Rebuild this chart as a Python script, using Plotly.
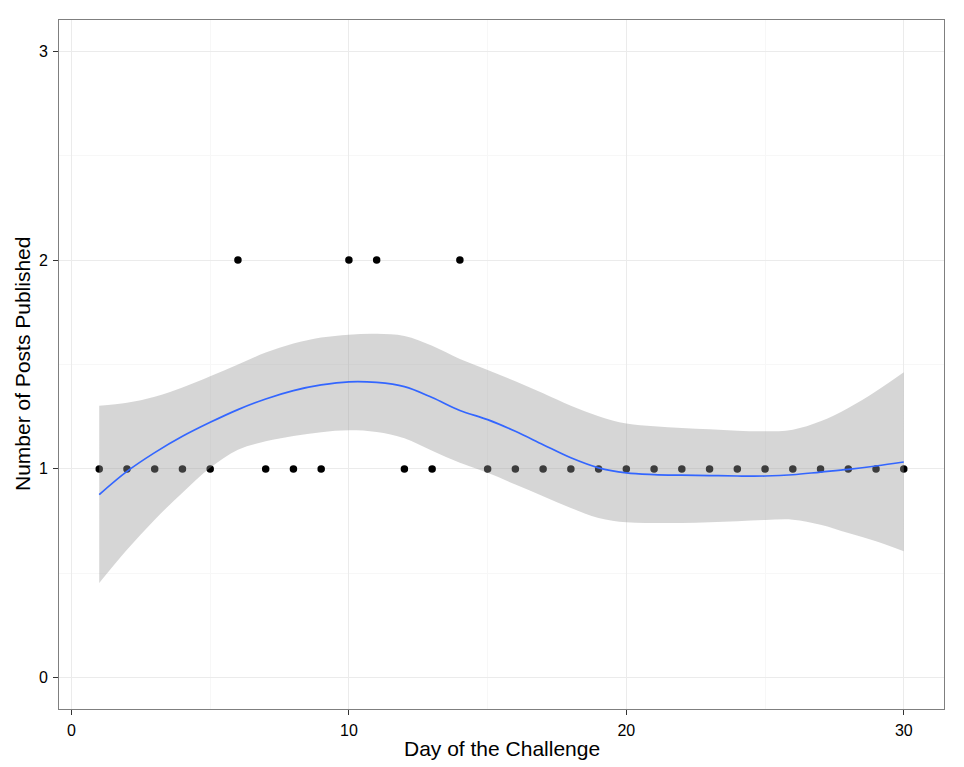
import plotly.graph_objects as go

days = list(range(1, 31))
posts = [1, 1, 1, 1, 1, 2, 1, 1, 1, 2, 2, 1, 1, 2, 1, 1, 1, 1, 1, 1,
         1, 1, 1, 1, 1, 1, 1, 1, 1, 1]

smooth_fit = [0.877, 0.988, 1.078, 1.156, 1.223, 1.284, 1.335, 1.375, 1.402, 1.417,
              1.414, 1.394, 1.342, 1.280, 1.236, 1.180, 1.116, 1.053, 1.005, 0.981,
              0.973, 0.970, 0.968, 0.966, 0.966, 0.972, 0.985, 0.998, 1.014, 1.033]
band_upper = [1.303, 1.317, 1.346, 1.390, 1.444, 1.500, 1.557, 1.600, 1.629, 1.643,
              1.647, 1.637, 1.590, 1.526, 1.474, 1.420, 1.362, 1.302, 1.252, 1.217,
              1.204, 1.196, 1.190, 1.183, 1.180, 1.188, 1.228, 1.292, 1.372, 1.463]
band_lower = [0.454, 0.613, 0.757, 0.886, 1.005, 1.092, 1.132, 1.158, 1.176, 1.185,
              1.177, 1.147, 1.087, 1.029, 0.981, 0.925, 0.869, 0.813, 0.765, 0.744,
              0.741, 0.741, 0.745, 0.749, 0.755, 0.757, 0.733, 0.693, 0.653, 0.605]

x_ticks = [0, 10, 20, 30]
y_ticks = [0, 1, 2, 3]

FONT = "Liberation Sans, Arial, sans-serif"

fig = go.Figure()

fig.add_trace(go.Scatter(
    x=days, y=posts, mode="markers",
    marker=dict(color="black", size=7.5, line=dict(width=0)),
    showlegend=False))

fig.add_trace(go.Scatter(
    x=days, y=band_lower, mode="lines",
    line=dict(width=0, shape="spline", smoothing=1.0),
    showlegend=False, hoverinfo="skip"))
fig.add_trace(go.Scatter(
    x=days, y=band_upper, mode="lines",
    line=dict(width=0, shape="spline", smoothing=1.0),
    fill="tonexty", fillcolor="rgba(153,153,153,0.4)",
    showlegend=False, hoverinfo="skip"))

fig.add_trace(go.Scatter(
    x=days, y=smooth_fit, mode="lines",
    line=dict(color="#3366FF", width=1.7, shape="spline", smoothing=1.0),
    showlegend=False))

axis_common = dict(
    automargin=False,
    showgrid=True, gridcolor="#EBEBEB", gridwidth=1,
    zeroline=False,
    showline=True, mirror=True, linecolor="#7F7F7F", linewidth=1,
    ticks="outside", ticklen=5, tickwidth=1.2, tickcolor="#333333",
    tickfont=dict(family=FONT, size=16, color="black"),
)

fig.update_xaxes(
    range=[-0.45, 31.45], tickvals=x_ticks, ticktext=[str(v) for v in x_ticks],
    minor=dict(showgrid=True, gridcolor="#F7F7F7", dtick=5, tick0=0, ticks=""),
    ticklabelstandoff=2,
    **axis_common)
fig.update_yaxes(
    range=[-0.15, 3.15], tickvals=y_ticks, ticktext=[str(v) for v in y_ticks],
    minor=dict(showgrid=True, gridcolor="#F7F7F7", dtick=0.5, tick0=0, ticks=""),
    ticklabelstandoff=2,
    **axis_common)

ML, MR, MT, MB = 59, 20, 20, 58
W, H = 964, 767
pw, ph = W - ML - MR, H - MT - MB

fig.update_layout(
    width=W, height=H,
    margin=dict(l=ML, r=MR, t=MT, b=MB),
    paper_bgcolor="white", plot_bgcolor="white",
    showlegend=False,
    annotations=[
        dict(text="Day of the Challenge", xref="paper", yref="paper",
             x=(502 - ML) / pw, y=(H - MB - 748) / ph,
             xanchor="center", yanchor="middle", showarrow=False,
             font=dict(family=FONT, size=21, color="black")),
        dict(text="Number of Posts Published", xref="paper", yref="paper",
             x=(22 - ML) / pw, y=(H - MB - 364) / ph, textangle=-90,
             xanchor="center", yanchor="middle", showarrow=False,
             font=dict(family=FONT, size=21, color="black")),
    ],
)

fig.write_html("out.html",
               config={"displayModeBar": False},
               post_script="document.body.style.margin='0';document.body.style.overflow='hidden';")
